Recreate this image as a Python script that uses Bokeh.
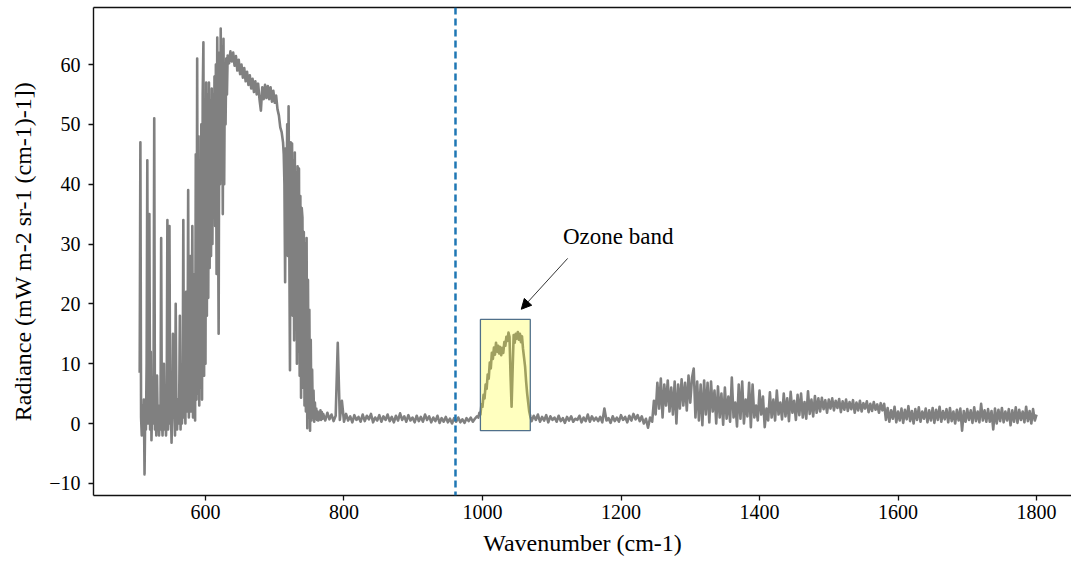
import numpy as np
from bokeh.plotting import figure
from bokeh.models import (Range1d, Span, Arrow, NormalHead, Label, LinearAxis,
                          FixedTicker, BoxAnnotation)
from bokeh.embed import file_html
from bokeh.resources import INLINE

# ---------------- data ----------------
# each segment: (first wavenumber, spacing, radiance values)
rad_a = [8.5, 47, 1, -2, 3, -1, 4, -8.5, 2, -1,
         10, 44, 0, 3, 35, -1, 12, -2.8, 3, 0,
         5, 51, -1, 2, -2, 8, 0, 3, -2, 2,
         -1, 31, 1, -2, 4, 10, -1, 2, -2, 3,
         34, -1, 4, 33, 0, 3, -3.2, 2, 15, 1,
         5, -2, 20, 2, -1, 4, 0, 3, 18, -1,
         5, 0, 4, 34, 1, 6, 0, 22, 2, 5,
         39, 1, 8, 28, 2, 6, 33, 1, 10, 25,
         0.5, 45, 4, 61, 5]
rad_b = [48, 3, 42, 6, 50, 4, 55, 63.7, 8, 52,
         10, 57, 18, 55, 21, 57, 26, 54, 28, 56,
         30, 55, 35, 58, 33, 60, 25, 64.5, 38, 15,
         62, 40, 66, 45, 63, 35, 64.3, 40, 60, 50,
         61, 55, 61.5]
rad_c = [60.2, 62.2, 60.5, 62, 59.8, 61.4, 59.0, 60.8, 58.4, 60.0,
         57.8, 59.4, 57.2, 58.8, 56.6, 58.2, 56.0, 57.6, 55.4, 57.2,
         55.0, 56.8, 54.2, 52.3, 56.2, 54.2, 56.6, 54.4, 56.4, 54.2,
         56.2, 53.8, 55.6, 53.6, 54.8, 52.5, 51.5, 49.5, 48.7, 47]
rad_d = [45, 40, 23.6, 46, 35, 50, 28, 53, 30, 8.9,
         47, 22, 46.8, 18, 44, 13.9, 45.3, 16, 42, 10,
         43, 12, 42.6, 8, 38, 4.3, 36, 34.4, 6, 32,
         3, 30, 2, 31, -0.8, 24, 1, 19, -1.2, 14,
         0.5, 9, 1, 5.5, 0.3, 3.5, 0.8, 2.5, 0.6, 2,
         0.5, 1.8, 0.7, 2.2, 0.6, 1.9, 0.8, 1.6]
rad_e = [0.5, 1.8, 0.7, 1.5, 0.4, 1.3, 13.5, 0.6, 3.8, 0.3,
         1.6, 0.5, 1.2, 0.2, 1.4, 0.6, 1.1, 0.3, 1.5, 0.4,
         1.3, 0.7, 1.6, 0.2, 1.0, 0.5, 1.4, 0.3, 1.2, 0.6,
         1.5, 0.4, 1.1, 0.2, 1.3, 0.5, 1.7, 0.6, 1.2, 0.3,
         1.4, 0.5, 1.0, 0.2, 1.3, 0.4, 1.1, 0.3, 1.5, 0.6,
         1.2, 0.2, 1.0, 0.4, 1.3, 0.1, 0.9, 0.3, 1.1, 0.2,
         0.8, 0.0, 0.9, 0.3, 1.0, 0.2, 0.7, 0.1, 0.9, 0.4,
         1.0, 0.3, 0.8, 1.2]
rad_f = [1.0, 1.8, 1.5, 3.2, 2.8, 4.8, 4.2, 6.5, 5.8, 8.2,
         7.5, 10.2, 9.2, 11.8, 10.8, 12.7, 11.5, 13.5, 12, 13,
         11.7, 12.8, 11.4, 12.6, 11.8, 13.6, 13, 14.5, 13.8, 15.2,
         14.5, 8, 2.8, 9, 14.8, 13.5, 15, 14.2, 15.3, 14,
         15, 13.6, 14.6, 12.5, 11, 9.5, 7, 5, 3.5, 2,
         1.2]
rad_g = [0.4, 1.3, 0.6, 1.5, 0.3, 1.1, 0.5, 1.4, 0.2, 1.2,
         0.6, 1.0, 0.3, 1.3, 0.4, 0.9, 0.1, 1.1, 0.5, 1.2,
         0.3, 0.8, 0.6, 1.3, 0.2, 1.0, 0.4, 1.5, 0.3, 1.2,
         0.5, 1.0, 0.4, 1.1, 0.2, 2.5, 0.5, 0.9, 0.1, 1.2,
         0.4, 1.0, 0.3, 1.4, 0.6, 1.1, 0.2, 1.3, 0.5, 1.6,
         0.7, 1.4, 0.4, 1.2, 0.0, 0.8, -0.7, 1.0, 0.3]
rad_h = [3.8, 1.5, 6.8, 2.5, 7.5, 1.0, 6.5, 3.0, 7.2, 2.0,
         6.0, 1.5, 7.0, 0.0, 6.5, 2.5, 7.4, 3.0, 6.8, 2.2,
         8.0, 3.5, 7.6, 9.2,
         1.0, 7.0, 0.5, 6.5, -0.3, 7.2, 1.5, 6.8, 0.2, 7.0,
         2.0, 5.5, 0.0, 6.2, 1.0, 5.0, -0.2, 6.0, 0.8, 4.5,
         0.3, 7.7, 1.0, 3.5, -0.5, 6.5, 0.8, 7.0, 0.0, 4.0,
         1.2, 6.8, -0.6, 6.5, 1.0, 3.0, 0.5, 5.5, 1.5, 4.5,
         -0.6, 2.5,
         0.5, 5.2, 1.0, 4.0, 0.5, 5.5, 1.5, 3.5, 0.7, 5.0,
         1.2, 4.2, 0.4, 5.3, 1.8, 3.8, 0.6, 4.8, 1.4, 5.0,
         1.0, 3.6, 0.8, 5.4, 1.6, 4.0, 1.2, 4.6, 1.8,
         4.2, 2.0, 4.3, 2.4, 3.9, 1.8, 4.0, 2.5, 4.2, 2.2,
         3.8, 2.6, 4.1, 1.9, 3.7, 2.3, 4.0, 2.1, 3.6, 2.4,
         3.9, 1.8, 3.5, 2.2, 3.8, 2.0, 3.4, 2.5, 3.7, 1.9,
         3.3, 2.1, 3.6, 2.3, 3.2, 1.8, 3.4, 2.2, 3.3]
rad_i = [0.6, 2.6, 0.3, 2.2, 0.8, 2.8, 0.2, 2.0, 0.5, 2.5,
         0.1, 2.3, 0.7, 2.9, 0.4, 2.1, 0.0, 2.4, 0.6, 2.7,
         0.3, 2.0, 0.8, 2.5, 0.2, 2.2, 0.5, 2.6, 0.1, 2.3,
         0.6, 2.8, 0.3, 2.1, 0.7, 2.4, 0.2, 2.6, 0.4, 2.0,
         0.0, 2.3, 0.5, 2.5, -1.2, 2.1, 0.3, 2.4, 0.6, 2.2,
         0.1, 2.7, 0.4, 2.0, 0.2, 3.3, 0.5, 2.2, 0.3, 2.4,
         0.3, 2.1, -1.0, 2.5, 0.0, 2.3, 0.4, 2.6, 0.2, 2.0,
         0.5, 2.4, -0.3, 2.2, 0.3, 2.7, 0.1, 2.3, 0.6, 2.0,
         0.2, 2.8, 0.4, 2.1, 0.0, 2.4, 0.5, 1.5]

segments = [(505, 1, rad_a), (590, 1, rad_b), (634, 2, rad_c), (713, 1, rad_d),
            (773, 3, rad_e), (994, 1.5, rad_f), (1071, 3, rad_g),
            (1247.5, 2.5, rad_h), (1582.5, 2.5, rad_i)]

x_ticks = [600, 800, 1000, 1200, 1400, 1600, 1800]
y_ticks = [-10, 0, 10, 20, 30, 40, 50, 60]

cutoff_wn = 961                     # dashed vertical line
ozone_wn = (997, 1069)              # highlighted band
ozone_rad = (-1.2, 17.4)
note_text = "Ozone band"
note_pos = (1196, 31.3)
arrow_from = (1123, 27.6)
arrow_to = (1056, 19.1)

wn = np.concatenate([s + d * np.arange(len(v)) for s, d, v in segments])
rad = np.concatenate([np.asarray(v, float) for _, _, v in segments])

# ---------------- figure ----------------
SERIF = "Liberation Serif"
p = figure(width=1071, height=563, output_backend="svg", toolbar_location=None,
           x_range=Range1d(438.3, 1850.5), y_range=Range1d(-12.03, 69.53),
           min_border_left=93, min_border_right=0, min_border_top=7,
           min_border_bottom=68,
           x_axis_label="Wavenumber (cm-1)",
           y_axis_label="Radiance (mW m-2 sr-1 (cm-1)-1])")
p.grid.visible = False
p.outline_line_color = None
p.background_fill_color = "white"
p.border_fill_color = "white"

p.line(wn, rad, line_color="#808080", line_width=2.6, line_join="round")

p.add_layout(Span(location=cutoff_wn, dimension="height", line_color="#1f77b4",
                  line_width=2.5, line_dash="7 4"))

p.add_layout(BoxAnnotation(left=ozone_wn[0], right=ozone_wn[1],
                           bottom=ozone_rad[0], top=ozone_rad[1],
                           fill_color="yellow", fill_alpha=0.25,
                           line_color="#50708a", line_width=1.3, line_alpha=1.0))

p.add_layout(Arrow(end=NormalHead(size=10, line_color="black", fill_color="black"),
                   x_start=arrow_from[0], y_start=arrow_from[1],
                   x_end=arrow_to[0], y_end=arrow_to[1],
                   line_color="#333333", line_width=1.0))

p.add_layout(Label(x=note_pos[0], y=note_pos[1], text=note_text,
                   text_font=SERIF, text_font_size="23px", text_color="black",
                   text_align="center", text_baseline="middle"))

xa = p.below[0]
ya = p.left[0]
xa.ticker = FixedTicker(ticks=x_ticks)
ya.ticker = FixedTicker(ticks=y_ticks)
ya.major_label_overrides = {-10: "\u221210"}
for ax in (xa, ya):
    ax.axis_line_width = 1.4
    ax.axis_line_color = "#111111"
    ax.major_tick_line_width = 1.3
    ax.major_tick_line_color = "#111111"
    ax.major_tick_out = 5
    ax.major_tick_in = 0
    ax.minor_tick_line_color = None
    ax.major_label_text_font = SERIF
    ax.major_label_text_font_size = "20px"
    ax.major_label_text_color = "black"
    ax.axis_label_text_font = SERIF
    ax.axis_label_text_font_size = "24px"
    ax.axis_label_text_font_style = "normal"
    ax.axis_label_text_color = "black"
xa.major_label_standoff = 4
xa.axis_label_standoff = 8
ya.major_label_standoff = 8
ya.axis_label_standoff = 10

top = LinearAxis(ticker=FixedTicker(ticks=[]), axis_line_width=1.4,
                 axis_line_color="#111111", major_tick_line_color=None,
                 minor_tick_line_color=None, major_label_text_font_size="0px")
p.add_layout(top, "above")

open("out.html", "w").write(file_html(p, INLINE))
